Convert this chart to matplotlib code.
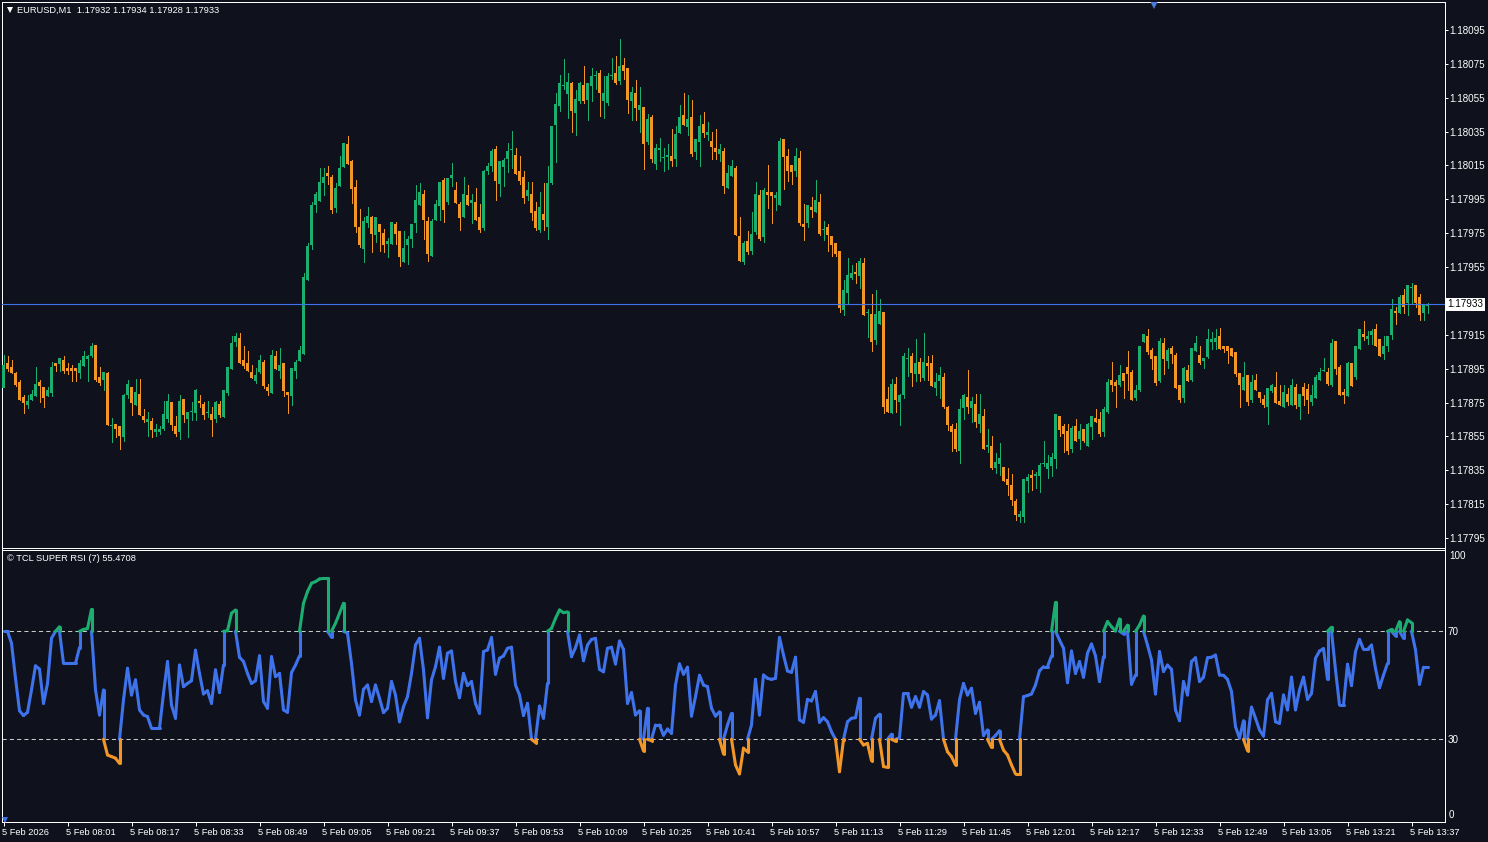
import matplotlib
matplotlib.use('Agg')
import matplotlib.pyplot as plt
import numpy as np
from matplotlib.collections import LineCollection
from matplotlib.transforms import ScaledTranslation, blended_transform_factory

# prices are stored as points above 1.17000
base = 1.17

opens = [
    883.8,898.4,896,892.5,887,878.3,873.6,876.5,878.9,887,
    884.2,878.9,880.6,898.4,897.8,900,895.4,895.4,895.4,892.5,
    896.6,900.7,902.5,909,890.1,888.3,892.5,861,862.3,861.2,
    854.7,879.5,884.2,873.6,880,867,863.5,864.1,857.6,857.6,
    859.4,865.3,875.3,861.2,857.6,877.1,865.3,869.4,868.8,876,
    874.1,868.8,868.2,865.3,874,866.5,880.6,894.8,910.8,913,
    900,898.4,893,887.7,893,899,884.2,880.6,902.5,893.6,
    898.4,881.2,878.9,893.6,899.6,903.6,947.3,968,991.6,994,
    1004.6,1010.5,1008.2,989.9,1002.9,1014.1,1027.7,1017.6,1002.3,978.6,
    965.6,981,984.5,973.9,980.4,975.1,968.6,968.6,980.4,976.3,
    958,968,971.5,981,991.6,998.1,982.2,961.5,982.8,991,
    1006.4,993.4,1007.6,1000.5,992.2,984.5,997.5,992.8,993.4,984.5,
    978,1011.7,1014.7,1024.7,1004,1014.1,1018.8,1024.1,1021.2,1011.7,
    1008.2,996.9,998.1,988.1,976.9,986.3,978.6,1004.6,1038.9,1050.1,
    1062,1057.2,1063.7,1046,1053,1062.5,1053.6,1061.9,1067.8,1069.6,
    1053,1051.9,1067.8,1069.6,1064.9,1074.3,1072.6,1053,1057.8,1047.7,
    1049.5,1028.8,1043.6,1015.8,1024.1,1019.2,1020,1020.6,1018.8,1034.2,
    1044.8,1037.7,1043.6,1023,1028.9,1039.5,1033,1029.5,1025.3,1021.8,
    1023.5,1001.7,1008.8,1013.5,973.3,958,970.4,964.5,975.7,997.6,
    972.7,999.3,999.3,995.8,991.6,1030.6,1020.6,1015.3,1011.7,1019.4,
    980.4,981,990.5,987.5,993.4,976.9,978.6,973.3,969.2,964.5,
    929.6,939.7,948.5,952.1,949.7,957.4,928,927.3,911.9,921.4,
    928.5,877.1,868.8,885.9,875.3,879.5,900.7,902.5,891.9,899,
    889.5,898.4,898.4,883.6,887.7,890.1,872.4,861.1,859.4,846.4,
    871.8,878.3,871.8,874.1,862.3,867,848.8,849.3,836.3,838.7,
    836.9,829.8,826.3,816.8,807.4,807.4,828.6,832.2,831.6,831.6,
    838.7,835.7,837.5,841.6,867,861.1,858.2,847.6,861.1,853.5,
    859.4,849.3,860.5,865.9,865.3,857.6,869.4,888.3,887.1,885.4,
    892.4,896,893,877.7,882.4,910.8,914.3,906,902.5,887.7,
    910.2,899.5,907.2,903.1,885.4,877.7,894.2,888.3,905.4,903.1,
    899.5,901.9,910.8,910.8,914.3,908.4,908.4,907.2,904.9,892.5,
    882.4,891.3,876.5,888.3,881.2,877.1,872.4,881.8,884.2,875.9,
    872.4,880,873.6,884.2,872.4,884.2,883,875.3,877.7,888.3,
    893.6,893,885.4,911.4,896,881.2,878.9,898.4,890.1,906.6,
    915.5,912.5,914.9,918.4,912.5,903.7,908.4,914.9,929.1,927.9,
    938.5,933.8,942.7,944.4,937.4,927.9,932,
]

closes = [
    897.2,894.8,892.5,885.4,876.5,874.7,876,880,886,884.8,
    877.7,882.4,896,896.6,901.3,893.6,893.6,893.6,893.6,898.4,
    902.5,902.5,908.4,888.3,886.6,893,861.8,861.5,859.4,855.2,
    879.5,886,874.7,881.2,867.7,864.7,865.3,858.8,859.4,859.4,
    868.2,876,861.8,856.4,876,867.7,869.4,870,882.4,874.7,
    867.7,869.4,864.7,875.3,867.7,882.4,896,910.2,914.3,898.4,
    896.6,893.6,889.5,891.3,900,884.8,881.8,903,894.8,897.2,
    881.8,879.5,895.4,899,906,949.3,967.4,991.6,998.1,1005.2,
    1008.2,1008.8,988.7,1001.7,1013.5,1028.3,1015.8,1001.1,978.6,968,
    982.2,985.1,974.5,984.5,975.7,968,970.4,981.6,974.5,960.9,
    966.2,971.5,980.4,994.6,999.3,982.8,962.7,982.2,992.2,1005.2,
    988.7,1007.6,1009.4,992.8,984,998.1,991.6,994.6,982.8,976.9,
    1011.7,1014.7,1023.5,1005.8,1017.6,1018.2,1023.5,1024.7,1010,1005.8,
    995.8,1000.5,986.9,978,990.4,982.8,1004.6,1038.3,1051.3,1063.7,
    1062.5,1064.3,1047.2,1054.2,1063.7,1053,1063.7,1067.8,1068.4,1057.8,
    1057.8,1067.8,1068.4,1063.7,1073.7,1070.8,1053.6,1058.4,1048.9,1050.7,
    1027.7,1042.4,1018.8,1025.3,1025.3,1019.8,1021.2,1017.6,1033.6,1043.6,
    1038.9,1042.4,1021.8,1030.6,1038.3,1034.2,1034.8,1025.9,1023,1024.7,
    1002.9,1010.5,1014.7,974,958.6,969.2,963.9,974.5,998.1,971.6,
    1000.5,997.6,997,997.6,1029.5,1020,1011.7,1011.1,1020.6,981,
    978.6,991.6,988.7,994.6,974.5,977.5,973.9,968,962.7,930.8,
    941.4,950.3,951.5,950.9,958.6,926.7,928.5,910.8,927.3,929.1,
    872.4,869.4,885.9,876.5,879.5,902.5,901.3,892.5,898.4,891.9,
    899,896.6,884.8,887.1,891.3,872.4,861.7,857.6,847.6,871.2,
    879.5,872.4,875.9,863.5,868.2,847.6,849.9,836.3,839.9,842.2,
    828.6,826.3,817.4,808.6,809.2,829.8,831,830.4,832.8,838.1,
    839.3,839.3,842.8,868.2,858.8,856.4,846.4,860,852.3,858.2,
    852.3,862.3,867,863.5,856.4,871.2,887.1,885.4,884.8,891.3,
    887.7,891.9,876.5,882.4,908.4,915.5,904.9,900.7,886.6,911.4,
    900.7,906,903.7,883.6,876.5,895.4,887.7,907.2,910.2,898.4,
    901.3,912.5,912.5,913.1,906.6,906.6,905.4,902.5,891.9,885.4,
    890.1,875.3,887.1,882.4,877.7,873.6,883.6,885.4,874.7,873.6,
    881.2,875.3,885.4,873.6,880,878.9,876.5,879.5,890.1,893,
    894.2,886,910.2,894.8,879.5,879.5,898.4,884.8,908.4,918.4,
    913.7,914.3,917.3,908.4,902.5,908.4,914.3,930.3,927.9,937.4,
    931.4,944.4,943.3,933.8,926.7,933.2,933,
]

highs = [
    903,902.5,900,893,888.3,879.5,879.5,882.4,896,888.3,
    884.2,884.2,899,898.4,901.3,902.5,898.4,897.2,895.4,900,
    905.5,903,910.2,909,896,893,893,866,862.3,861.2,
    880,888.3,884.2,888.9,888.9,871.2,869.4,865.9,862.3,861.2,
    876,880,875.3,867,879.5,877.1,869.4,875.3,883,879.5,
    875.3,876,872.4,876,876,882.4,896,914.3,916,916,
    908.4,905.5,897.2,895.4,903,900,886,906,905.5,907,
    898.4,881.2,895.4,900,908.4,951.5,969,993.4,999.3,1013.5,
    1013.5,1014.7,1009.4,1004.6,1020.6,1028.3,1032.4,1018.2,1006.4,989.3,
    984.5,990.4,985.1,984.5,980.4,977.4,972.1,981.6,981.6,976.3,
    976.3,973.3,980.4,1003.4,1004.6,1000.5,984.5,983.4,994.6,1005.2,
    1007.6,1007.6,1016.4,1005.2,993.4,1008.2,1003.4,998.1,1001.7,992.2,
    1012.3,1016.4,1024.7,1026.5,1017.6,1019.4,1028.3,1035.3,1025.3,1020.6,
    1011.7,1005.2,1005.2,993.4,999.3,1004.6,1014.7,1038.3,1057.8,1068.4,
    1077.9,1069.6,1064.3,1059.6,1064.3,1073.7,1063.7,1072.6,1070.8,1071.4,
    1067.8,1069.6,1078.5,1079.6,1089.7,1078.5,1072.6,1061.3,1065.5,1061.3,
    1049.5,1045.4,1044.8,1027.7,1031.2,1025.3,1027.7,1036.5,1038.3,1050.7,
    1057.8,1056.6,1053.7,1030.6,1044.8,1046.6,1040.7,1034.8,1036.5,1027.7,
    1025.3,1015.3,1018.2,1014.7,984.6,970.4,976.3,987.5,1005.2,1000.5,
    1001.7,1015.3,999.3,999.3,1031.2,1030.6,1024.7,1015.3,1025.3,1023.5,
    992.2,991.6,996.4,1006.4,998.1,982.2,980.4,973.3,969.2,964.5,
    947.3,960.3,956.2,957.4,960.3,960.3,930.2,939.1,941.5,936.2,
    928.5,884.2,888.9,890.1,880,904.3,907.2,904.3,912.5,901.3,
    916.1,902.5,903.1,892.4,896,892.4,873,862.3,862.9,877.1,
    880,894.2,878.3,880,880,871.2,859.4,855.2,845.2,851.1,
    836.9,836.3,832.8,818,810.9,829.8,832.8,835.1,834,839.3,
    852.3,844,845.2,868.2,867,862.3,862.3,861.1,865.3,862.3,
    859.4,862.9,867,871.2,869.4,872.4,888.9,898.9,888.3,897.2,
    892.4,905.4,894.2,885.4,908.4,915.5,918.4,907.2,902.5,913.1,
    913.1,907.2,908.4,904.3,885.4,896,897.2,907.2,914.3,908.4,
    901.3,918.4,916.7,918.4,919,908.4,908.4,907.2,904.9,892.5,
    899,891.3,891.3,891.9,881.2,879.5,883.6,886,893,885.4,
    885.4,883.6,888.9,886,880,886.6,886,885.4,891.3,895.4,
    901.3,895.4,912.5,911.4,897.2,883,899,898.4,908.4,918.4,
    923.2,917.3,918.4,921.4,912.5,914.3,914.3,936.2,931.4,938.5,
    942,944.4,945.6,944.4,939.1,933.2,934,
]

lows = [
    884,893.6,892.5,884.8,876.5,868.8,871.8,876.5,878.9,875.3,
    872.4,878.9,878.9,893.6,893.6,892.5,891.9,887.7,887.7,889.5,
    896.6,887.7,901.9,887.7,885.4,882.4,861.8,851.7,854.7,847.6,
    852.3,877.7,867.7,873.6,867.7,863.5,855.2,854.7,855.2,856.4,
    858.8,863.5,858.8,855.2,853.5,863.5,854.7,864.7,864.7,872.4,
    865.3,866.5,855.2,863.5,866.5,866.5,879.5,894.8,908.4,898.4,
    895.4,893.6,889.5,886.6,892.5,883.6,879.5,880.6,894.8,889.5,
    878.9,868.8,873.6,889.5,899.6,903.6,947.3,965.6,987.5,994,
    997.5,1004,986.9,987.5,1002.9,1014.1,1015.8,992.8,975.7,966.8,
    958,978.6,963.9,969.8,964.5,963.9,960.9,968.6,968.6,955.6,
    958,956.8,966.8,975.7,991.6,971.5,958.5,961.5,982.8,982.8,
    981.6,992.2,1002.9,992.8,976.9,984.5,991.6,981,982.8,975.7,
    976.9,1010,1011.7,994.6,997,1002.9,1011.1,1013.5,1010,1004,
    992.8,994.6,982.8,976.9,975.7,976.9,971.5,1004,1017,1047.2,
    1060.1,1043,1034.7,1033,1051.9,1051.9,1041.8,1053,1060.1,1044.2,
    1043,1050.7,1066,1063.1,1063.1,1066,1046,1041.8,1041.8,1034.7,
    1012.9,1027.7,1017,1012.9,1017.6,1011.7,1012.9,1014.7,1014.7,1034.2,
    1038.9,1033,1020.6,1018.8,1014.7,1031.8,1030,1018.8,1018.8,1017.6,
    998.7,1001.7,1008.8,974,958.6,956.8,962.7,962.7,974.5,971,
    969.8,989.9,981,988.7,991.6,1001.1,1005.8,1004,1008.8,979.8,
    971,978.6,984.6,987.5,973.9,971,964.5,961.5,961.5,928.4,
    926.7,933.8,947.9,945.6,942.6,926.7,913.7,905.4,909.6,921.4,
    868.8,869.4,868.8,869.4,861.7,877.7,890.7,884.8,887.7,887.7,
    888.3,888.3,884.8,879.5,877.7,871.8,858.8,846.4,846.4,839.3,
    865.3,868.8,863.5,860.5,857.6,847.6,845.8,835.7,833.4,832.2,
    828.6,820.4,814.5,805.6,804.4,804.4,822.1,823.3,824.5,822.1,
    837.5,830.4,831.6,836.3,855.2,845.8,844.6,845.8,852.3,847.6,
    851.7,849.3,853.5,863.5,855.2,855.2,868.8,881.8,872.4,884.8,
    877.7,882.4,876.5,876.5,881.8,910.8,903.7,894.8,885.4,887.1,
    891.9,895.4,898.4,883.6,875.3,875.3,887.7,887.7,905.4,897.8,
    895.4,901.3,906.6,906.6,906.6,904.9,898.4,902.5,890.7,872.4,
    882.4,873.6,875.3,882.4,875.3,872.4,862.3,881.2,874.7,873.6,
    872.4,873.6,873.6,871.8,865.3,873.6,868.8,873.6,877.7,888.3,
    893.6,885.4,884.8,891.9,879.5,874.7,878.9,884.8,888.9,906.6,
    912,909.6,909.6,908.4,902.5,900.7,905.4,912.5,921.4,927.9,
    927.9,926.7,933.8,931.4,923.8,923.8,928,
]

rsi = [
    70,70,65.6,52.6,40.6,38.8,40,48.3,57.2,56,
    43.3,50.7,67.4,70,71.7,58.1,58.1,58.1,58.1,64,
    70.7,71,78.1,48.3,39,48.3,24.2,23.6,23,21.1,
    44.6,56.3,46.4,52,40.9,39,38.4,34.1,34.1,34.1,
    47,58.8,42.7,37.8,57.5,49.5,50.7,51.7,63,54.4,
    46.8,48,43.3,55.7,47.3,57.5,70.2,76.7,77.9,60.4,
    58.8,54.4,50.7,51.7,60.9,44,41.5,60.6,53.2,54.4,
    40.9,40,54.7,57.5,60.9,80.4,84.7,87.8,88.4,89.4,
    89.6,89.6,67.8,73,76.7,80.4,69.3,58.1,44.6,39,
    48.5,50.1,44,50.1,45.2,39.9,41.5,51.4,46.4,36.5,
    42.1,45.8,54.4,64.9,67.4,55.7,38,52,56.9,64.1,
    52.6,61.9,62.7,51.4,45.4,54.4,49.9,51.4,43.3,39.6,
    62.5,63.1,67.7,54.1,60,60.9,63.7,64.1,50.1,46.4,
    38.8,43.3,30.1,28.8,42.3,37.8,50.7,71.1,74.8,77.9,
    76.9,77.2,60.6,64,68.6,59.1,64.9,67,67.4,55.9,
    55,63.7,64.1,57.9,66.4,63.3,43.3,47.3,39,40.6,
    25.7,41.5,29.5,35.3,35.3,31.5,33.8,32.2,50.1,57.9,
    54.1,56.7,38.6,45.8,53.7,50.1,49.5,41.5,38.6,40.2,
    24.6,35.3,39.6,20.5,17.2,26.7,25.4,35.3,52.2,39,
    53.8,52.6,52.2,52.6,67.7,61.2,55.3,54.8,60.4,37.2,
    36.3,44.8,44.2,47.7,36.3,38,36.5,32.8,30,18,
    29.8,36.5,37.8,38,45.2,27.9,28.5,22.1,37.8,39.3,
    19.9,19.6,31.9,29.3,30.6,47,47,41.9,45.8,41.9,
    47.7,46.4,37.5,39,44.3,30,25.4,23.6,20.5,44.6,
    50.7,46.4,48.9,39.6,43.7,31.4,33.5,27,31.4,33.2,
    26,24.2,20.5,17.2,17.2,45.8,46.2,46.8,50.1,55.4,
    56.9,56.9,60.9,80.7,66.8,63.7,51,62.7,54.4,58.8,
    53,61.9,65.3,60.9,51.4,60.6,73.6,71.7,70.1,74.6,
    69,72.3,50.4,53.8,72.3,75.7,64.9,59.4,46.8,62.5,
    55.1,57.5,55.9,40.9,36.9,51.4,46.4,58.8,60.2,51.4,
    53,60.2,60.4,61.2,53.8,53.7,52.2,47.7,34.7,30.4,
    36.9,25.8,41.9,37.8,33.5,31.2,44.6,47,36.5,35.9,
    46.4,40.9,53,40.9,48.3,53,44.8,47,60,62.7,
    63.6,52.2,71.5,55.7,42.7,42.7,57.8,49.9,62.5,67,
    63.3,63.3,64.9,56.3,49.1,53.8,58.1,70.7,68.3,73.6,
    67.4,74.2,73.2,63.1,50.4,56.7,56.7,
]

bid = 933
rsi_upper = 70
rsi_lower = 30
price_ticks = [1095, 1075, 1055, 1035, 1015, 995, 975, 955, 915, 895, 875, 855, 835, 815, 795]
minutes = ['2026', '08:01', '08:17', '08:33', '08:49', '09:05', '09:21', '09:37', '09:53', '10:09', '10:25',
           '10:41', '10:57', '11:13', '11:29', '11:45', '12:01', '12:17', '12:33', '12:49', '13:05', '13:21', '13:37']

bg = '#0f121d'
green = '#1cad70'
orange = '#f29727'
blue = '#3f73ec'
grey = '#c8c8c8'
plt.rcParams['font.family'] = ['Liberation Sans', 'DejaVu Sans']
fs = 6.7
fs_y = 7.1
W, H = 1488, 842


def pane(top, bottom):
    ax = fig.add_axes([2.0 / W, 1 - bottom / H, 1442.5 / W, (bottom - top) / H], facecolor=bg)
    ax.set_xlim(-0.375, 360.25)
    for s in ax.spines.values():
        s.set_color('white')
        s.set_linewidth(0.72)
    return ax


fig = plt.figure(figsize=(W / 100, H / 100), dpi=100, facecolor=bg)
ax = pane(2.0, 547.5)
ax2 = pane(549.5, 821.5)

# candles
o = base + np.array(opens) / 1e5
c = base + np.array(closes) / 1e5
h = base + np.array(highs) / 1e5
l = base + np.array(lows) / 1e5
x = np.arange(len(o))
col = np.where(c >= o, green, orange)
ax.vlines(x, l, h, colors=col, linewidth=0.72, antialiased=False, zorder=2)
ax.bar(x, np.maximum(np.abs(c - o), 0.000006), bottom=np.minimum(o, c), width=0.8,
       color=col, linewidth=0, antialiased=False, zorder=3)
ax.set_ylim(base + 789.4 / 1e5, base + 1111.5 / 1e5)
ax.axhline(base + bid / 1e5, color=blue, linewidth=0.8, zorder=4)

ax.yaxis.tick_right()
ax.set_yticks([base + p / 1e5 for p in price_ticks])
ax.set_yticklabels(['%.5f' % (base + p / 1e5) for p in price_ticks])
ax.tick_params(axis='y', colors='white', labelsize=fs_y, length=2.2, width=0.72, pad=1)
ax.set_xticks([])

ax.text(15 / 1442, 1 - 8 / 545, 'EURUSD,M1  1.17932 1.17934 1.17928 1.17933', transform=ax.transAxes,
        color='white', fontsize=fs, va='center', ha='left', zorder=6)
ax.plot([7.5 / 1442], [1 - 8 / 545], marker='v', color='white', markersize=5, linewidth=0,
        markeredgewidth=0, transform=ax.transAxes, zorder=6)
ax.plot([287.6], [1 - 1.5 / 545], marker='v', color='#4a7bd8', markersize=6.5, linewidth=0, markeredgewidth=0,
        transform=blended_transform_factory(ax.transData, ax.transAxes), clip_on=True, zorder=6)

# bid label on the price scale
ax.text(1.0021, base + bid / 1e5, '1.17933', color='black', fontsize=fs_y, va='center', ha='left',
        transform=blended_transform_factory(ax.transAxes, ax.transData), zorder=7,
        bbox=dict(boxstyle='square,pad=0.18', facecolor='white', edgecolor='white', linewidth=0), clip_on=False)

# rsi, cut in colours at the two levels
segs = {blue: [], green: [], orange: []}


def zone(v):
    if v > rsi_upper:
        return green
    if v < rsi_lower:
        return orange
    return blue


for i in range(len(rsi) - 1):
    a, b = rsi[i], rsi[i + 1]
    za, zb = zone(a), zone(b)
    if za == zb:
        segs[za].append([(i, a), (i + 1, b)])
    elif za == blue:
        lvl = rsi_upper if zb == green else rsi_lower
        segs[blue].append([(i, a), (i, lvl)])
        segs[zb].append([(i, lvl), (i + 1, b)])
    else:
        lvl = rsi_upper if za == green else rsi_lower
        segs[za].append([(i, a), (i, lvl)])
        segs[blue].append([(i, lvl), (i + 1, b)])

for colour, lines in segs.items():
    ax2.add_collection(LineCollection(lines, colors=colour, linewidths=2.2, capstyle='round', zorder=3))

ax2.set_ylim(-0.44, 100.3)
for lvl in [rsi_upper, rsi_lower]:
    ax2.axhline(lvl, color=grey, linewidth=0.75, dashes=(4, 3), zorder=2)

ax2.yaxis.tick_right()
ax2.set_yticks([rsi_upper, rsi_lower])
ax2.set_yticklabels(['70', '30'])
ax2.tick_params(axis='y', colors='white', labelsize=fs_y, length=0, pad=2)
trans = blended_transform_factory(ax2.transAxes, ax2.transData)
ax2.text(1.0032, 97.8, '100', color='white', fontsize=fs_y, va='center', ha='left', transform=trans)
ax2.text(1.0032, 2.0, '0', color='white', fontsize=fs_y, va='center', ha='left', transform=trans)
ax2.text(5 / 1442, 1 - 9 / 272, '\u00a9 TCL SUPER RSI (7) 55.4708', transform=ax2.transAxes, color='white',
         fontsize=fs, va='center', ha='left')
ax2.plot([0.3], [0.3], marker='v', color=blue, markersize=5, linewidth=0, markeredgewidth=0, zorder=5)

ax2.set_xticks(x[::16][:len(minutes)])
ax2.set_xticklabels(['5 Feb ' + m for m in minutes], ha='left')
ax2.tick_params(axis='x', colors='white', labelsize=fs, length=3.2, width=0.72, pad=1.5)
shift = ScaledTranslation(-2 / 100, 0, fig.dpi_scale_trans)
for lab in ax2.get_xticklabels():
    lab.set_transform(lab.get_transform() + shift)

fig.savefig('out.png', dpi=100, facecolor=bg)
